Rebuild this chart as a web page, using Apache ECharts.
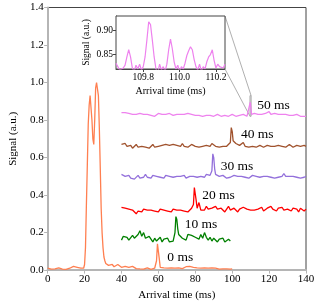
<!DOCTYPE html>
<html><head><meta charset="utf-8">
<script src="https://cdn.jsdelivr.net/npm/echarts@6/dist/echarts.min.js"></script>
<style>html,body{margin:0;padding:0;background:#fff}#c{width:320px;height:306px}</style>
</head><body><div id="c"></div>
<script>
// ---- data (time ms, signal a.u.) ----
const trace0 = [[0,0.01],[1,0.008],[2,0.005],[3,0.01],[4,0.006],[5,0.004],[6,0.012],[7,0.007],[8,0.005],[9,0.008],[10,0.004],[11,0.006],[12,0.01],[13,0.018],[14,0.02],[15,0.012],[16,0.015],[17,0.008],[18,0.01],[19,0.006],
[19.5,0.01],[20,0.03],[20.5,0.12],[21,0.35],[21.5,0.56],[22,0.78],[22.5,0.88],[23,0.93],[23.5,0.92],[24,0.8],[24.5,0.7],[25,0.67],[25.5,0.8],[26,0.97],[26.5,1.0],[27,0.99],[27.5,0.93],[28,0.76],[28.5,0.55],[29,0.33],[29.5,0.2],[30,0.12],[30.5,0.07],[31,0.05],[31.5,0.035],[32,0.03],
[33,0.025],[34,0.02],[35,0.03],[36,0.018],[37,0.025],[38,0.03],[39,0.02],[40,0.015],[41,0.025],[42,0.02],[43,0.01],[44,0.015],[45,0.012],[46,0.02],[47,0.01],[48,0.008],[49,0.012],[50,0.006],[51,0.01],[52,0.005],[53,0.008],[54,0.012],[55,0.006],[56,0.004],[57,0.008],[58,0.01],
[59,0.05],[59.5,0.14],[60,0.13],[60.5,0.06],[61,0.015],[62,0.008],[63,0.012],[64,0.006],[65,0.01],[66,0.005],[67,0.012],[68,0.008],[69,0.01],[70,0.006],[71,0.012],[72,0.015],[73,0.008],[74,0.01],[75,0.018],[76,0.012],[77,0.02],[78,0.01],[79,0.015],[80,0.008],
[81,0.012],[82,0.006],[83,0.01],[84,0.008],[85,0.012],[86,0.005],[87,0.01],[88,0.008],[89,0.012],[90,0.006],[91,0.01],[92,0.008],[93,0.005],[94,0.01],[95,0.007],[96,0.012],[97,0.006],[98,0.008],[99,0.005],[100,0.006]];

const trace10 = [[40,0.16],[41,0.18],[42,0.17],[43,0.175],[44,0.16],[45,0.17],[46,0.185],[47,0.17],[48,0.18],[49,0.19],[50,0.21],[51,0.18],[52,0.2],[53,0.17],[54,0.16],[55,0.18],[56,0.165],[57,0.15],[58,0.17],[59,0.155],[60,0.16],[61,0.175],[62,0.15],[63,0.165],[64,0.155],[65,0.17],[66,0.15],[67,0.16],[68,0.155],
[69,0.2],[69.5,0.285],[70,0.27],[70.5,0.22],[71,0.19],[72,0.185],[73,0.17],[74,0.18],[75,0.16],[76,0.19],[77,0.2],[78,0.185],[79,0.195],[80,0.175],[81,0.18],[82,0.165],[83,0.19],[84,0.17],[85,0.2],[86,0.175],[87,0.16],[88,0.175],[89,0.155],[90,0.17],[91,0.16],[92,0.15],[93,0.165],[94,0.155],[95,0.17],[96,0.15],[97,0.16],[98,0.165],[99,0.155]];

const trace20 = [[40,0.335],[41,0.345],[42,0.33],[43,0.34],[44,0.325],[45,0.33],[46,0.32],[47,0.31],[48,0.3],[49,0.315],[50,0.32],[51,0.31],[52,0.325],[53,0.315],[54,0.32],[55,0.31],[56,0.32],[57,0.33],[58,0.315],[59,0.32],[60,0.31],[61,0.325],[62,0.315],[63,0.32],[64,0.33],[65,0.315],[66,0.32],[67,0.31],[68,0.325],[69,0.315],[70,0.32],[71,0.31],[72,0.32],[73,0.33],[74,0.315],[75,0.32],[76,0.31],[77,0.32],[78,0.33],
[79,0.35],[79.5,0.44],[80,0.43],[80.5,0.37],[81,0.33],[82,0.36],[83,0.32],[84,0.33],[85,0.32],[86,0.34],[87,0.325],[88,0.315],[89,0.33],[90,0.32],[91,0.34],[92,0.325],[93,0.315],[94,0.33],[95,0.32],[96,0.31],[97,0.325],[98,0.34],[99,0.32],[100,0.315],[101,0.33],[102,0.32],[103,0.31],[104,0.325],[105,0.32],[106,0.335],[107,0.34],[108,0.325],[109,0.315],[110,0.32],
[111,0.33],[112,0.32],[113,0.31],[114,0.325],[115,0.32],[116,0.335],[117,0.315],[118,0.32],[119,0.33],[120,0.32],[121,0.34],[122,0.325],[123,0.32],[124,0.315],[125,0.33],[126,0.32],[127,0.335],[128,0.32],[129,0.31],[130,0.325],[131,0.32],[132,0.315],[133,0.33],[134,0.32],[135,0.325],[136,0.31],[137,0.33],[138,0.32],[139,0.315],[140,0.325]];

const trace30 = [[40,0.51],[41,0.505],[42,0.5],[43,0.495],[44,0.505],[45,0.49],[46,0.5],[47,0.485],[48,0.495],[49,0.505],[50,0.49],[51,0.5],[52,0.495],[53,0.51],[54,0.495],[55,0.5],[56,0.49],[57,0.505],[58,0.495],[59,0.5],[60,0.51],[61,0.495],[62,0.5],[63,0.49],[64,0.505],[65,0.495],[66,0.5],[67,0.49],[68,0.495],[69,0.505],[70,0.5],[71,0.49],[72,0.5],[73,0.495],[74,0.505],[75,0.49],[76,0.495],[77,0.5],[78,0.49],[79,0.5],[80,0.505],[81,0.495],[82,0.49],[83,0.5],[84,0.505],[85,0.495],[86,0.51],[87,0.5],[88,0.505],
[89,0.53],[89.5,0.62],[90,0.6],[90.5,0.54],[91,0.51],[92,0.52],[93,0.5],[94,0.495],[95,0.505],[96,0.5],[97,0.49],[98,0.5],[99,0.495],[100,0.5],[101,0.505],[102,0.495],[103,0.5],[104,0.49],[105,0.5],[106,0.505],[107,0.495],[108,0.5],[109,0.49],[110,0.5],[111,0.505],[112,0.495],[113,0.5],[114,0.49],[115,0.495],[116,0.505],[117,0.5],[118,0.495],[119,0.5],[120,0.505],
[121,0.495],[122,0.5],[123,0.49],[124,0.5],[125,0.495],[126,0.505],[127,0.5],[128,0.515],[129,0.5],[130,0.495],[131,0.5],[132,0.49],[133,0.5],[134,0.505],[135,0.495],[136,0.5],[137,0.49],[138,0.5],[139,0.495],[140,0.5]];

const trace40 = [[40,0.67],[41,0.665],[42,0.675],[43,0.66],[44,0.655],[45,0.665],[46,0.65],[47,0.66],[48,0.67],[49,0.655],[50,0.665],[51,0.66],[52,0.67],[53,0.655],[54,0.665],[55,0.65],[56,0.66],[57,0.67],[58,0.655],[59,0.665],[60,0.66],[61,0.67],[62,0.665],[63,0.655],[64,0.67],[65,0.66],[66,0.665],[67,0.655],[68,0.67],[69,0.66],[70,0.665],[71,0.655],[72,0.66],[73,0.675],[74,0.66],[75,0.665],[76,0.655],[77,0.66],[78,0.67],[79,0.665],[80,0.66],[81,0.67],[82,0.655],[83,0.665],[84,0.66],[85,0.67],[86,0.665],[87,0.655],[88,0.66],[89,0.675],[90,0.665],[91,0.66],[92,0.67],[93,0.655],[94,0.665],[95,0.66],[96,0.67],[97,0.66],[98,0.655],
[99,0.68],[99.5,0.76],[100,0.74],[100.5,0.69],[101,0.7],[102,0.675],[103,0.685],[104,0.665],[105,0.67],[106,0.68],[107,0.66],[108,0.665],[109,0.655],[110,0.665],[111,0.66],[112,0.67],[113,0.655],[114,0.66],[115,0.665],[116,0.67],[117,0.655],[118,0.66],[119,0.665],[120,0.655],[121,0.66],[122,0.67],[123,0.66],[124,0.655],[125,0.665],[126,0.67],[127,0.66],[128,0.665],[129,0.655],[130,0.66],[131,0.67],[132,0.665],[133,0.655],[134,0.66],[135,0.665],[136,0.67],[137,0.66],[138,0.655],[139,0.665],[140,0.66]];

const trace50 = [[40,0.84],[41,0.835],[42,0.84],[43,0.83],[44,0.835],[45,0.825],[46,0.83],[47,0.82],[48,0.83],[49,0.825],[50,0.835],[51,0.825],[52,0.83],[53,0.82],[54,0.83],[55,0.835],[56,0.825],[57,0.83],[58,0.82],[59,0.825],[60,0.835],[61,0.825],[62,0.83],[63,0.82],[64,0.83],[65,0.825],[66,0.835],[67,0.83],[68,0.825],[69,0.835],[70,0.83],[71,0.825],[72,0.83],[73,0.82],[74,0.83],[75,0.825],[76,0.835],[77,0.825],[78,0.83],[79,0.82],[80,0.825],[81,0.835],[82,0.825],[83,0.83],[84,0.82],[85,0.83],[86,0.825],[87,0.835],[88,0.825],[89,0.83],[90,0.82],[91,0.825],[92,0.83],[93,0.825],[94,0.82],[95,0.83],[96,0.825],[97,0.83],[98,0.82],[99,0.825],[100,0.83],[101,0.825],[102,0.82],[103,0.83],[104,0.825],[105,0.82],[106,0.83],[107,0.825],[108,0.82],[109,0.83],
[109.8,0.895],[110.5,0.83],[111,0.825],[112,0.835],[113,0.825],[114,0.83],[115,0.82],[116,0.83],[117,0.825],[118,0.835],[119,0.83],[120,0.845],[121,0.83],[122,0.825],[123,0.835],[124,0.825],[125,0.83],[126,0.82],[127,0.83],[128,0.825],[129,0.83],[130,0.82],[131,0.825],[132,0.83],[133,0.825],[134,0.82],[135,0.83],[136,0.825],[137,0.82],[138,0.825],[139,0.82],[140,0.82]];

// zoomed detail of the 50 ms peak
const insetTrace = [[109.65,0.832],[109.66,0.825],[109.67,0.818],[109.68,0.815],[109.69,0.822],[109.70,0.828],[109.71,0.845],[109.72,0.860],[109.73,0.845],[109.74,0.822],[109.75,0.815],[109.76,0.828],[109.77,0.82],[109.78,0.83],[109.79,0.818],[109.80,0.825],[109.81,0.845],[109.82,0.88],[109.83,0.918],[109.84,0.912],[109.85,0.88],[109.86,0.845],[109.87,0.82],[109.88,0.812],[109.89,0.83],[109.90,0.818],[109.91,0.825],[109.92,0.815],[109.93,0.83],[109.94,0.86],[109.95,0.882],[109.96,0.862],[109.97,0.835],[109.98,0.82],[109.99,0.828],[110.00,0.815],[110.01,0.825],[110.02,0.82],[110.03,0.832],[110.04,0.848],[110.05,0.858],[110.06,0.866],[110.07,0.86],[110.08,0.84],[110.09,0.825],[110.10,0.818],[110.11,0.83],[110.12,0.815],[110.13,0.825],[110.14,0.82],[110.15,0.835],[110.16,0.845],[110.17,0.85],[110.18,0.86],[110.19,0.838],[110.20,0.822],[110.21,0.83],[110.22,0.825],[110.23,0.828],[110.24,0.822],[110.25,0.83]];

const traceNames = ['0 ms','10 ms','20 ms','30 ms','40 ms','50 ms'];
const traceColors = ['#FF7F50','#008000','#FF0000','#9370DB','#A0522D','#EE82EE'];
const labelAnchors = [[64.6,0.066],[74,0.242],[83.5,0.398],[93.5,0.551],[104.5,0.724],[113.3,0.877]];
const xTicks = [0,20,40,60,80,100,120,140];
const yTicks = [0.0,0.2,0.4,0.6,0.8,1.0,1.2,1.4];
const insetXTicks = [109.8,110.0,110.2];
const insetYTicks = [0.85,0.90];
const insetXRange = [109.65,110.25];
const insetYRange = [0.82,0.93];

const FONT = 'Liberation Serif';
const traces = [trace0,trace10,trace20,trace30,trace40,trace50];
const chart = echarts.init(document.getElementById('c'), null, {renderer:'canvas'});

const series = traces.map((d,i)=>({
  type:'line', xAxisIndex:0, yAxisIndex:0, data:d, showSymbol:false, symbol:'none',
  lineStyle:{color:traceColors[i], width:1.3}, itemStyle:{color:traceColors[i]}, z:3,
  markPoint:{symbol:'circle', symbolSize:1, itemStyle:{color:'rgba(0,0,0,0)'}, silent:true,
    label:{show:true, position:'right', distance:0, formatter:traceNames[i], color:'#000', fontFamily:FONT, fontSize:13.5},
    data:[{coord:labelAnchors[i]}]},
  markArea: i===5 ? {silent:true, itemStyle:{color:'rgba(200,200,200,0.35)', borderColor:'#aaa', borderWidth:1},
    data:[[{coord:[insetXRange[0],insetYRange[0]]},{coord:[insetXRange[1],insetYRange[1]]}]]} : undefined
}));
series.push({type:'line', xAxisIndex:1, yAxisIndex:1, data:insetTrace, showSymbol:false, symbol:'none',
  lineStyle:{color:traceColors[5], width:1.2}, z:5, clip:true});

const grayAxis = '#b5b5b5';
chart.setOption({
  animation:false,
  grid:[
    {left:35, top:7.5, width:271, height:265, show:true, borderColor:'#444', borderWidth:1, backgroundColor:'#fff', z:0},
    {left:116, top:16, width:109, height:53, show:true, borderColor:'#444', borderWidth:1, backgroundColor:'#fff', z:4}
  ],
  xAxis:[
    {gridIndex:0, type:'value', min:0, max:140, interval:20, name:'Arrival time (ms)', nameLocation:'middle', nameGap:18,
     nameTextStyle:{fontFamily:FONT, fontSize:11, color:'#000'},
     axisLine:{show:true, lineStyle:{color:grayAxis, width:2}}, axisTick:{show:true, length:3.5, lineStyle:{color:grayAxis, width:1}},
     axisLabel:{fontFamily:FONT, fontSize:11, color:'#000', margin:4}, splitLine:{show:false}},
    {gridIndex:1, type:'value', min:insetXRange[0], max:insetXRange[1], name:'Arrival time (ms)', nameLocation:'middle', nameGap:17,
     nameTextStyle:{fontFamily:FONT, fontSize:10, color:'#000'},
     axisLine:{show:true, lineStyle:{color:'#444', width:1}}, axisTick:{show:true, length:3, customValues:insetXTicks, lineStyle:{color:'#444'}},
     axisLabel:{fontFamily:FONT, fontSize:9.5, color:'#000', margin:3, customValues:insetXTicks, formatter:v=>v.toFixed(1)}, splitLine:{show:false}}
  ],
  yAxis:[
    {gridIndex:0, type:'value', min:0, max:1.4, interval:0.2, name:'Signal (a.u.)', nameLocation:'middle', nameGap:23,
     nameTextStyle:{fontFamily:FONT, fontSize:11, color:'#000'},
     axisLine:{show:true, lineStyle:{color:grayAxis, width:2}}, axisTick:{show:true, length:3.5, lineStyle:{color:grayAxis, width:1}},
     axisLabel:{fontFamily:FONT, fontSize:11, color:'#000', margin:4, formatter:v=>v.toFixed(1)}, splitLine:{show:false}},
    {gridIndex:1, type:'value', min:insetYRange[0], max:insetYRange[1], name:'Signal (a.u.)', nameLocation:'middle', nameGap:25,
     nameTextStyle:{fontFamily:FONT, fontSize:9.5, color:'#000'},
     axisLine:{show:true, lineStyle:{color:'#444', width:1}}, axisTick:{show:true, length:3, customValues:insetYTicks, lineStyle:{color:'#444'}},
     axisLabel:{fontFamily:FONT, fontSize:9.5, color:'#000', margin:3, customValues:insetYTicks, formatter:v=>v.toFixed(2)}, splitLine:{show:false}}
  ],
  series:series
});

// connector lines from inset corners to the zoomed region
const pIT = chart.convertToPixel({gridIndex:1}, [insetXRange[1], insetYRange[1]]);
const pIB = chart.convertToPixel({gridIndex:1}, [insetXRange[1], insetYRange[0]]);
const pRT = chart.convertToPixel({gridIndex:0}, [insetXRange[1], insetYRange[1]]);
const pRB = chart.convertToPixel({gridIndex:0}, [insetXRange[0], insetYRange[0]]);
chart.setOption({graphic:[
  {type:'line', shape:{x1:pIT[0],y1:pIT[1],x2:pRT[0],y2:pRT[1]}, style:{stroke:'#b0b0b0', lineWidth:1}, z:2, silent:true},
  {type:'line', shape:{x1:pIB[0],y1:pIB[1],x2:pRB[0],y2:pRB[1]}, style:{stroke:'#b0b0b0', lineWidth:1}, z:2, silent:true}
]});
</script></body></html>
